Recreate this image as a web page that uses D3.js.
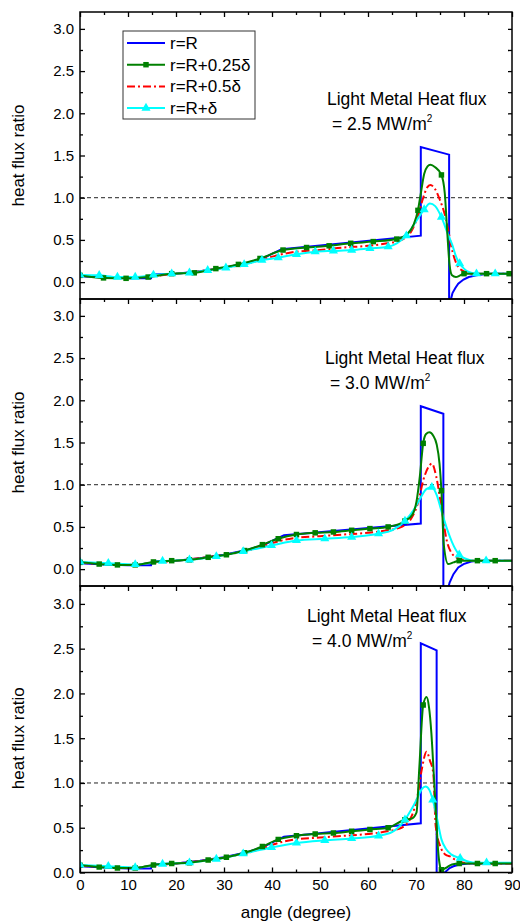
<!DOCTYPE html>
<html>
<head>
<meta charset="utf-8">
<script src="https://cdn.jsdelivr.net/npm/d3@7"></script>
<style>
  body { margin: 0; background: #fff; }
  text { font-family: "Liberation Sans", Arial, sans-serif; fill: #000; }
</style>
</head>
<body>
<div id="chart"></div>
<script>
// axis values
var xMajor = [0, 10, 20, 30, 40, 50, 60, 70, 80, 90];
var xMinor = [5, 15, 25, 35, 45, 55, 65, 75, 85];
var yMajor = [0, 0.5, 1.0, 1.5, 2.0, 2.5, 3.0];
var yMinor = [0.25, 0.75, 1.25, 1.75, 2.25, 2.75];
var heatFlux = ["2.5", "3.0", "4.0"];
var seriesNames = ["r=R", "r=R+0.25\u03b4", "r=R+0.5\u03b4", "r=R+\u03b4"];

// panel 1 : 2.5 MW/m2
var blue1 = [[0,0.07],[5,0.055],[10,0.045],[14.8,0.045],[15,0.09],[20,0.1],[25,0.13],[30,0.17],[35,0.23],[38,0.28],[42,0.39],[71,0.55],[71,1.60],[76.9,1.51],[76.9,-0.6],[77.1,-0.6],[77.3,-0.2],[77.6,-0.13],[78.2,-0.07],[78.8,-0.02],[79.9,0.03],[81,0.06],[82.6,0.08],[85,0.1],[90,0.1]];
var green1 = [[0,0.08],[4.9,0.05],[9.6,0.045],[14.2,0.06],[19.1,0.1],[23.8,0.11],[28.3,0.16],[33,0.21],[37.5,0.28],[42.3,0.38],[47.2,0.41],[51.9,0.43],[56.4,0.46],[61.1,0.48],[66,0.51],[68,0.56],[69.5,0.68],[70.4,0.85],[71,1.05],[71.7,1.28],[72.4,1.37],[73,1.39],[74,1.36],[75.3,1.27],[76,1.05],[76.5,0.6],[77,0.2],[77.5,0.08],[78.3,0.06],[79.2,0.08],[80,0.1],[84.7,0.1],[89.4,0.1],[90,0.1]];
var red1 = [[0,0.075],[5,0.06],[10,0.05],[15,0.07],[20,0.1],[25,0.13],[30,0.17],[35,0.22],[38,0.27],[42,0.33],[45,0.36],[50,0.38],[55,0.41],[60,0.43],[64,0.46],[67,0.5],[69,0.6],[70.5,0.8],[71.5,1.0],[72.3,1.12],[73,1.15],[74,1.1],[75,0.97],[76,0.8],[76.7,0.62],[77.4,0.41],[78.5,0.21],[79.9,0.13],[82,0.1],[90,0.1]];
var cyan1 = [[0,0.085],[4,0.08],[7.8,0.06],[11.5,0.06],[15.3,0.085],[19.1,0.1],[22.8,0.11],[26.6,0.14],[30.4,0.17],[34.2,0.21],[37.9,0.26],[41.3,0.29],[45.1,0.33],[49,0.36],[52.8,0.37],[56.6,0.38],[60.4,0.4],[64.2,0.42],[66,0.46],[68,0.55],[70,0.72],[71.7,0.86],[72.9,0.93],[74,0.9],[75.3,0.77],[76.7,0.56],[77.5,0.45],[78.5,0.28],[79.1,0.22],[80,0.16],[81,0.12],[82.6,0.1],[86.5,0.1],[90,0.1]];
var greenMarks1 = [0,4.9,9.6,14.2,19.1,23.8,28.3,33,37.5,42.3,47.2,51.9,56.4,61.1,66,70.4,75.3,80,84.7,89.4];
var cyanMarks1 = [0,4,7.8,11.5,15.3,19.1,22.8,26.6,30.4,34.2,37.9,41.3,45.1,49,52.8,56.6,60.4,64.2,68,71.7,75.3,79.1,82.6,86.5];

// panel 2 : 3.0 MW/m2
var blue2 = [[0,0.07],[5,0.055],[10,0.045],[14.8,0.045],[15,0.09],[20,0.1],[25,0.13],[30,0.17],[35,0.23],[38,0.28],[42.5,0.4],[71,0.54],[71,1.93],[75.7,1.84],[75.7,-0.6],[76.4,-0.6],[76.6,-0.25],[77,-0.16],[77.8,-0.06],[78.8,0.02],[79.9,0.06],[81.5,0.09],[83,0.1],[90,0.1]];
var green2 = [[0,0.08],[4,0.06],[7.8,0.05],[11.5,0.05],[15.3,0.085],[19.1,0.1],[22.8,0.11],[26.7,0.14],[30.5,0.17],[34.3,0.22],[38,0.29],[41.3,0.36],[45.1,0.41],[49,0.43],[52.8,0.44],[56.6,0.46],[60.4,0.48],[64.2,0.5],[67.7,0.57],[69.3,0.65],[70.1,0.8],[70.8,1.1],[71.5,1.49],[72.1,1.6],[72.8,1.62],[73.6,1.58],[74.3,1.48],[74.9,1.25],[75.3,0.93],[75.8,0.28],[76.7,0.06],[77.8,0.08],[79,0.1],[82.8,0.1],[86.5,0.1],[90,0.1]];
var red2 = [[0,0.075],[5,0.06],[10,0.05],[15,0.075],[20,0.1],[25,0.13],[30,0.17],[35,0.22],[38,0.27],[42,0.34],[45,0.37],[50,0.39],[55,0.41],[60,0.43],[64,0.46],[67,0.5],[69,0.6],[70.5,0.8],[71.5,1.05],[72.5,1.2],[73.3,1.25],[74.2,1.1],[75.3,0.73],[76.4,0.34],[77.3,0.2],[78.4,0.14],[80,0.11],[82,0.1],[90,0.1]];
var cyan2 = [[0,0.085],[5.9,0.07],[11.5,0.055],[17.2,0.095],[22.8,0.11],[28.4,0.15],[34,0.21],[39.9,0.28],[45.1,0.34],[51,0.36],[56.6,0.38],[62.2,0.42],[65,0.46],[67.7,0.57],[69.5,0.7],[71,0.85],[72.2,0.95],[73.3,0.97],[74.3,0.88],[75.3,0.69],[76.5,0.47],[77.5,0.32],[79,0.17],[80.5,0.12],[82,0.1],[84.6,0.1],[90,0.1]];
var greenMarks2 = [0,4,7.8,11.5,15.3,19.1,22.8,26.7,30.5,34.3,38,41.3,45.1,49,52.8,56.6,60.4,64.2,67.7,71.5,75.3,79,82.8,86.5];
var cyanMarks2 = [0,5.9,11.5,17.2,22.8,28.4,34,39.9,45.1,51,56.6,62.2,67.7,73.3,79,84.6];

// panel 3 : 4.0 MW/m2
var blue3 = [[0,0.07],[5,0.055],[10,0.045],[14.8,0.045],[15,0.09],[20,0.1],[25,0.13],[30,0.17],[35,0.23],[38,0.28],[42.5,0.4],[71,0.55],[71,2.56],[74.3,2.48],[74.3,-0.3],[75.8,-0.3],[76,0.0],[77,0.05],[77.8,0.07],[79,0.09],[81,0.1],[90,0.1]];
var green3 = [[0,0.08],[4,0.06],[7.8,0.05],[11.5,0.05],[15.3,0.085],[19.1,0.1],[22.8,0.11],[26.7,0.14],[30.5,0.17],[34.3,0.22],[38,0.29],[41.3,0.37],[45.1,0.41],[49,0.43],[52.8,0.44],[56.6,0.46],[60.4,0.48],[64.2,0.5],[67.7,0.59],[69,0.6],[70.1,0.67],[70.7,1.18],[71.5,1.87],[72.2,1.96],[72.7,1.85],[73.2,1.56],[73.7,1.1],[74.2,0.63],[74.6,0.25],[75,0.07],[75.3,0.03],[76.2,0.05],[77.5,0.09],[79,0.1],[82.8,0.1],[86.5,0.1],[90,0.1]];
var red3 = [[0,0.075],[5,0.06],[10,0.05],[15,0.075],[20,0.1],[25,0.13],[30,0.17],[35,0.22],[38,0.27],[42,0.34],[45,0.37],[50,0.39],[55,0.41],[60,0.43],[64,0.46],[67,0.5],[69,0.62],[70.3,0.85],[71.2,1.15],[72.2,1.35],[72.9,1.25],[73.6,1.11],[74.1,0.52],[75,0.3],[76.4,0.19],[77.1,0.18],[78.5,0.13],[80,0.11],[82,0.1],[90,0.1]];
var cyan3 = [[0,0.085],[5.9,0.07],[11.5,0.055],[17.2,0.095],[22.8,0.11],[28.4,0.15],[34,0.21],[39.9,0.28],[45.1,0.33],[51,0.36],[56.6,0.38],[62.2,0.41],[65,0.45],[67.7,0.59],[69,0.7],[70.1,0.81],[71.2,0.93],[72,0.96],[72.8,0.92],[73.5,0.81],[74.4,0.6],[75.3,0.37],[76.3,0.26],[77.4,0.2],[79.2,0.16],[81,0.12],[82.5,0.11],[84.7,0.11],[90,0.11]];
var greenMarks3 = [0,4,7.8,11.5,15.3,19.1,22.8,26.7,30.5,34.3,38,41.3,45.1,49,52.8,56.6,60.4,64.2,67.7,71.5,75.3,79,82.8,86.5];
var cyanMarks3 = [0,5.9,11.5,17.2,22.8,28.4,34,39.9,45.1,51,56.6,62.2,67.7,73.5,79.2,84.7];

var panels = [
  { flux: heatFlux[0], yDomain: [-0.2, 3.2], top: 12, bottom: 299, series: [blue1, green1, red1, cyan1], gMarks: greenMarks1, cMarks: cyanMarks1, noteX: 327, noteY: 105 },
  { flux: heatFlux[1], yDomain: [-0.2, 3.2], top: 299, bottom: 586, series: [blue2, green2, red2, cyan2], gMarks: greenMarks2, cMarks: cyanMarks2, noteX: 325, noteY: 364 },
  { flux: heatFlux[2], yDomain: [0, 3.2], top: 586, bottom: 872.5, series: [blue3, green3, red3, cyan3], gMarks: greenMarks3, cMarks: cyanMarks3, noteX: 307, noteY: 622 }
];

var colors = ["#0000ff", "#008000", "#ff0000", "#00ffff"];
var width = 520, height = 924;
var left = 80, right = 512;

var svg = d3.select("#chart")
  .append("svg")
  .attr("width", width)
  .attr("height", height);

var x = d3.scaleLinear().domain([0, 90]).range([left, right]);

function hasMark(list, a) {
  return list.some(function(m) { return Math.abs(m - a) < 1e-6; });
}

panels.forEach(function(p, i) {
  var y = d3.scaleLinear().domain(p.yDomain).range([p.bottom, p.top]);
  var g = svg.append("g");

  g.append("clipPath").attr("id", "clip" + i)
    .append("rect")
    .attr("x", left).attr("y", p.top)
    .attr("width", right - left).attr("height", p.bottom - p.top);

  // dashed 1.0 line
  g.append("line")
    .attr("x1", left).attr("x2", right)
    .attr("y1", y(1)).attr("y2", y(1))
    .attr("stroke", "#222")
    .attr("stroke-width", 1)
    .attr("stroke-dasharray", "4,3");

  var plot = g.append("g").attr("clip-path", "url(#clip" + i + ")");

  var lineLinear = d3.line()
    .x(function(d) { return x(d[0]); })
    .y(function(d) { return y(d[1]); });
  var lineSmooth = d3.line()
    .curve(d3.curveMonotoneX)
    .x(function(d) { return x(d[0]); })
    .y(function(d) { return y(d[1]); });

  // blue, red, cyan, green draw order close to the original
  [0, 2, 3, 1].forEach(function(k) {
    var path = plot.append("path")
      .datum(p.series[k])
      .attr("fill", "none")
      .attr("stroke", colors[k])
      .attr("stroke-width", 2)
      .attr("d", k == 0 ? lineLinear : lineSmooth);
    if (k == 2) path.attr("stroke-dasharray", "8,3,2,3");
  });

  // markers
  plot.selectAll(".sq")
    .data(p.series[1].filter(function(d) { return hasMark(p.gMarks, d[0]); }))
    .enter()
    .append("path")
    .attr("class", "sq")
    .attr("d", d3.symbol().type(d3.symbolSquare).size(30))
    .attr("fill", colors[1])
    .attr("transform", function(d) { return "translate(" + x(d[0]) + "," + y(d[1]) + ")"; });

  plot.selectAll(".tri")
    .data(p.series[3].filter(function(d) { return hasMark(p.cMarks, d[0]); }))
    .enter()
    .append("path")
    .attr("class", "tri")
    .attr("d", d3.symbol().type(d3.symbolTriangle).size(36))
    .attr("fill", colors[3])
    .attr("transform", function(d) { return "translate(" + x(d[0]) + "," + y(d[1]) + ")"; });

  // axes, ticks pointing inward
  g.append("g")
    .attr("transform", "translate(" + left + ",0)")
    .call(d3.axisLeft(y).tickValues(yMajor).tickSize(-5).tickPadding(6).tickFormat(d3.format(".1f")))
    .call(function(a) { a.select(".domain").remove(); a.selectAll("text").attr("font-size", 15).attr("font-family", null); });
  g.append("g")
    .attr("transform", "translate(" + left + ",0)")
    .call(d3.axisLeft(y).tickValues(yMinor).tickSize(-3).tickFormat(""))
    .call(function(a) { a.select(".domain").remove(); });
  g.append("g")
    .attr("transform", "translate(" + right + ",0)")
    .call(d3.axisRight(y).tickValues(yMajor.concat(yMinor)).tickSize(-4).tickFormat(""))
    .call(function(a) { a.select(".domain").remove(); });
  g.append("g")
    .attr("transform", "translate(0," + p.top + ")")
    .call(d3.axisTop(x).tickValues(xMajor).tickSize(-5).tickFormat(""))
    .call(function(a) { a.select(".domain").remove(); });
  g.append("g")
    .attr("transform", "translate(0," + p.top + ")")
    .call(d3.axisTop(x).tickValues(xMinor).tickSize(-3).tickFormat(""))
    .call(function(a) { a.select(".domain").remove(); });

  if (i == 2) {
    g.append("g")
      .attr("transform", "translate(0," + p.bottom + ")")
      .call(d3.axisBottom(x).tickValues(xMajor).tickSize(-5).tickPadding(7))
      .call(function(a) { a.select(".domain").remove(); a.selectAll("text").attr("font-size", 15).attr("font-family", null); });
    g.append("g")
      .attr("transform", "translate(0," + p.bottom + ")")
      .call(d3.axisBottom(x).tickValues(xMinor).tickSize(-3).tickFormat(""))
      .call(function(a) { a.select(".domain").remove(); });
  }

  g.selectAll(".tick line").attr("stroke", "#000").attr("stroke-width", 1.3);

  // frame
  g.append("rect")
    .attr("x", left).attr("y", p.top)
    .attr("width", right - left).attr("height", p.bottom - p.top)
    .attr("fill", "none")
    .attr("stroke", "#000")
    .attr("stroke-width", 1.5);

  // y title
  g.append("text")
    .attr("transform", "translate(24," + (y(1.5)) + ") rotate(-90)")
    .attr("text-anchor", "middle")
    .attr("font-size", 17)
    .text("heat flux ratio");

  // note
  g.append("text")
    .attr("x", p.noteX).attr("y", p.noteY)
    .attr("font-size", 17.5)
    .text("Light Metal Heat flux");
  var note2 = g.append("text")
    .attr("x", p.noteX + 5).attr("y", p.noteY + 25)
    .attr("font-size", 17.5)
    .text(" = " + p.flux + " MW/m");
  note2.append("tspan")
    .attr("font-size", 10)
    .attr("dy", -8)
    .text("2");
});

// x title
svg.append("text")
  .attr("x", (left + right) / 2)
  .attr("y", 918)
  .attr("text-anchor", "middle")
  .attr("font-size", 17)
  .text("angle (degree)");

// legend
var legend = svg.append("g");
legend.append("rect")
  .attr("x", 123).attr("y", 31)
  .attr("width", 132).attr("height", 88)
  .attr("fill", "#fff")
  .attr("stroke", "#333")
  .attr("stroke-width", 1);

seriesNames.forEach(function(name, k) {
  var ly = 43 + k * 21.7;
  var ln = legend.append("line")
    .attr("x1", 127).attr("x2", 165)
    .attr("y1", ly).attr("y2", ly)
    .attr("stroke", colors[k])
    .attr("stroke-width", 2);
  if (k == 2) ln.attr("stroke-dasharray", "8,3,2,3");
  if (k == 1 || k == 3) {
    legend.append("path")
      .attr("d", d3.symbol().type(k == 1 ? d3.symbolSquare : d3.symbolTriangle).size(k == 1 ? 30 : 36))
      .attr("fill", colors[k])
      .attr("transform", "translate(146," + ly + ")");
  }
  legend.append("text")
    .attr("x", 170).attr("y", ly + 6)
    .attr("font-size", 17)
    .text(name);
});
</script>
</body>
</html>
